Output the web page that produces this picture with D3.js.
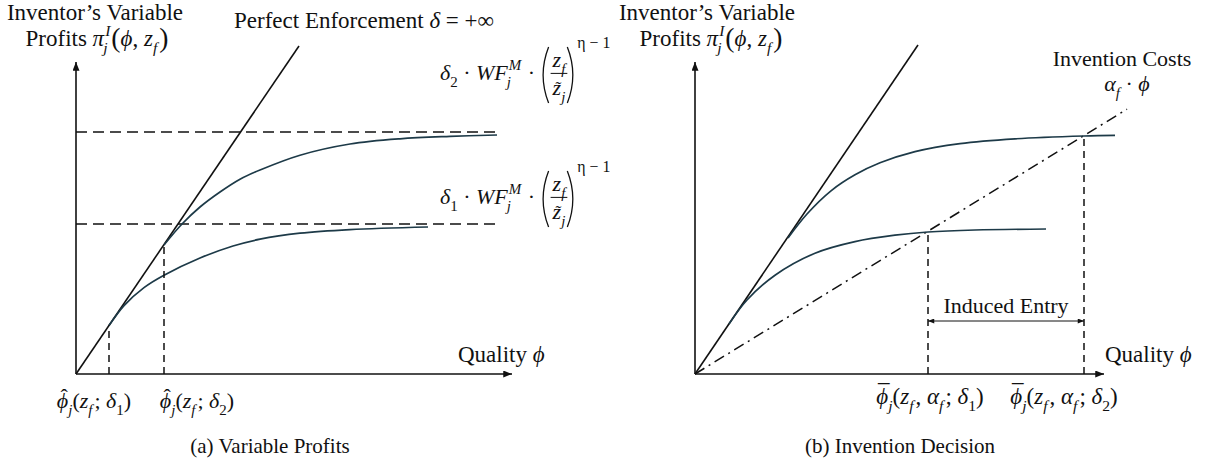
<!DOCTYPE html>
<html lang="en">
<head>
<meta charset="UTF-8">
<title>Variable Profits and Invention Decision</title>
<script src="https://d3js.org/d3.v7.min.js"></script>
<style>
  body { margin: 0; background: #fff; }
  text { font-family: "Liberation Serif", "DejaVu Serif", serif; fill: #111; white-space: pre; }
</style>
</head>
<body>
<script>
// ---- data, in model units (quality phi on x, profits on y) ----
// panel (a)
const perfectA = [[0, 0], [5.575, 8.2]];
const levelsA = [3.75, 6.05];             // delta_1, delta_2 ceilings
const tangentsA = [[0.825, 1.21], [2.2, 3.225]];
const profitsA1 = [[0.825, 1.21], [1.2, 1.71], [1.7, 2.16], [2.2, 2.47], [3.1, 2.9], [3.925, 3.2],
                   [4.6, 3.37], [5.6, 3.52], [6.85, 3.61], [8.8, 3.675]];
const profitsA2 = [[2.2, 3.225], [2.65, 3.75], [3.1, 4.175], [3.6, 4.55], [4.1, 4.87], [4.6, 5.1],
                   [5.6, 5.47], [6.85, 5.75], [8.1, 5.88], [9.35, 5.94], [10.525, 5.975]];
// panel (b)
const perfectB = [[0, 0], [5.575, 8.225]];
const costB = [[0, 0], [10.8, 6.62]];
const profitsB1 = [[0.85, 1.25], [1.3, 1.85], [2, 2.47], [3, 3.02], [4, 3.31], [5, 3.47],
                   [5.825, 3.55], [7, 3.6], [8.775, 3.625]];
const profitsB2 = [[2.325, 3.4], [2.8, 4.0], [3.4, 4.58], [4, 4.98], [4.625, 5.28], [5.5, 5.56],
                   [6.625, 5.76], [8, 5.88], [9.725, 5.95], [10.5, 5.965]];
const cutoffsB = [[5.825, 3.55], [9.725, 5.95]];
const entryArrowY = 1.325;

const xMaxA = 10.9, xMaxB = 10.225, yMax = 7.8, levelEnd = 10.6;

// ---- layout ----
const width = 1210, height = 472;
const FS = 22;
const ink = "#111", curveInk = "#1d3a48";

const svg = d3.select("body").append("svg")
    .attr("width", width).attr("height", height);

const y = d3.scaleLinear().domain([0, 8.5]).range([374, 34]);
const xA = d3.scaleLinear().domain([0, 11]).range([76, 516]);
const xB = d3.scaleLinear().domain([0, 11]).range([695, 1135]);

const defs = svg.append("defs");
defs.append("marker").attr("id", "arr")
    .attr("viewBox", "0 0 10 8").attr("refX", 10).attr("refY", 4)
    .attr("markerWidth", 9).attr("markerHeight", 7).attr("markerUnits", "userSpaceOnUse")
    .attr("orient", "auto")
    .append("path").attr("d", "M0,0 L10,4 L0,8 Z").attr("fill", ink);
defs.append("marker").attr("id", "arrS")
    .attr("viewBox", "0 0 10 8").attr("refX", 10).attr("refY", 4)
    .attr("markerWidth", 7).attr("markerHeight", 5).attr("markerUnits", "userSpaceOnUse")
    .attr("orient", "auto-start-reverse")
    .append("path").attr("d", "M0,0 L10,4 L0,8 Z").attr("fill", ink);

function lineOf(x, curve) {
  return d3.line().x(d => x(d[0])).y(d => y(d[1])).curve(curve || d3.curveLinear);
}

// ---- little math typesetter ----
function textAt(g, t, x, yy, size, italic) {
  const el = g.append("text").attr("x", x).attr("y", yy)
      .attr("font-size", size).style("font-style", italic ? "italic" : "normal").text(t);
  return el.node().getComputedTextLength();
}

function piece(g, it, x, base, fs) {
  if (typeof it === "string") it = { t: it };
  if (it.frac) {
    const bar = base - fs * 0.3;
    const ng = g.append("g"), dg = g.append("g");
    let wn = 0, wd = 0;
    it.num.forEach(p => { wn = piece(ng, p, wn, 0, fs); });
    it.den.forEach(p => { wd = piece(dg, p, wd, 0, fs); });
    const W = Math.max(wn, wd) + 4;
    ng.attr("transform", `translate(${x + (W - wn) / 2},${bar - 6})`);
    dg.attr("transform", `translate(${x + (W - wd) / 2},${bar + 22})`);
    g.append("line").attr("x1", x).attr("x2", x + W).attr("y1", bar).attr("y2", bar)
        .attr("stroke", ink).attr("stroke-width", 1);
    return x + W;
  }
  if (it.paren) {
    const top = base - fs * 1.5, bot = base + fs * 1.05, w = 7;
    const mid = (top + bot) / 2;
    const d = it.paren === "("
      ? `M${x + w + 1},${top} Q${x - 3},${mid} ${x + w + 1},${bot}`
      : `M${x},${top} Q${x + w + 4},${mid} ${x},${bot}`;
    g.append("path").attr("d", d).attr("fill", "none").attr("stroke", ink).attr("stroke-width", 1.3);
    return x + w + 3;
  }
  if (it.ss) {
    const a = textAt(g, it.sup, x + 1, base - fs * 0.45, fs * 0.68, true);
    const b = textAt(g, it.sub, x - 1, base + fs * 0.3, fs * 0.68, true);
    return x + Math.max(a, b) + 2;
  }
  const size = fs * (it.sub || it.sup ? 0.68 : (it.scale || 1));
  const dy = it.sub ? fs * 0.3 : it.sup ? -fs * 0.42 : (it.dy || 0);
  const w = textAt(g, it.t, x, base + dy, size, it.i);
  if (it.acc) {
    g.append("text").attr("x", x + w / 2 + (it.i ? 1.5 : 0)).attr("y", base - fs * (it.accUp || 0))
        .attr("text-anchor", "middle").attr("font-size", fs * (it.accSize || 1)).text(it.acc);
  }
  return x + w + (it.gap || 0);
}

function math(items, x, base, anchor, fs) {
  fs = fs || FS;
  const g = svg.append("g");
  let w = 0;
  items.forEach(p => { w = piece(g, p, w, 0, fs); });
  const dx = anchor === "middle" ? x - w / 2 : x;
  g.attr("transform", `translate(${dx},${base})`);
  return g;
}

const I = t => ({ t: t, i: true });
const sub = (t, i) => ({ t: t, sub: true, i: !!i });
const subF = { t: "f", sub: true, i: true, gap: 2 };

// ---- panel drawing ----
function axes(x, xMax) {
  svg.append("line").attr("x1", x(0)).attr("y1", y(0)).attr("x2", x(0)).attr("y2", y(yMax))
      .attr("stroke", ink).attr("stroke-width", 1.6).attr("marker-end", "url(#arr)");
  svg.append("line").attr("x1", x(0)).attr("y1", y(0)).attr("x2", x(xMax)).attr("y2", y(0))
      .attr("stroke", ink).attr("stroke-width", 1.6).attr("marker-end", "url(#arr)");
}

function drops(x, pts) {
  svg.append("g").selectAll("line").data(pts).join("line")
      .attr("x1", d => x(d[0])).attr("x2", d => x(d[0]))
      .attr("y1", y(0)).attr("y2", d => y(d[1]))
      .attr("stroke", ink).attr("stroke-width", 1.5).attr("stroke-dasharray", "7,5");
}

const smooth = d3.curveCatmullRom.alpha(0.5);

// panel (a)
svg.append("g").selectAll("line").data(levelsA).join("line")
    .attr("x1", xA(0)).attr("x2", xA(levelEnd)).attr("y1", d => y(d)).attr("y2", d => y(d))
    .attr("stroke", ink).attr("stroke-width", 1.5).attr("stroke-dasharray", "11,6");
svg.append("path").attr("d", lineOf(xA)(perfectA))
    .attr("fill", "none").attr("stroke", ink).attr("stroke-width", 1.6);
[profitsA1, profitsA2].forEach(c => svg.append("path").attr("d", lineOf(xA, smooth)(c))
    .attr("fill", "none").attr("stroke", curveInk).attr("stroke-width", 1.7));
drops(xA, tangentsA);
axes(xA, xMaxA);

// panel (b)
svg.append("path").attr("d", lineOf(xB)(costB))
    .attr("fill", "none").attr("stroke", ink).attr("stroke-width", 1.5).attr("stroke-dasharray", "11,5,2,5");
svg.append("path").attr("d", lineOf(xB)(perfectB))
    .attr("fill", "none").attr("stroke", ink).attr("stroke-width", 1.6);
[profitsB1, profitsB2].forEach(c => svg.append("path").attr("d", lineOf(xB, smooth)(c))
    .attr("fill", "none").attr("stroke", curveInk).attr("stroke-width", 1.7));
drops(xB, cutoffsB);
svg.append("line")
    .attr("x1", xB(cutoffsB[0][0])).attr("x2", xB(cutoffsB[1][0]))
    .attr("y1", y(entryArrowY)).attr("y2", y(entryArrowY))
    .attr("stroke", ink).attr("stroke-width", 1)
    .attr("marker-start", "url(#arrS)").attr("marker-end", "url(#arrS)");
axes(xB, xMaxB);

// ---- labels ----
const profitsLabel = ["Profits ", I("π"), { ss: true, sup: "I", sub: "j" },
  { t: "(", scale: 1.2, dy: 1 }, I("ϕ"), ", ", I("z"), subF, { t: ")", scale: 1.2, dy: 1 }];

function ceiling(d) {
  return [I("δ"), sub(d), " · ", I("WF"), { ss: true, sup: "M", sub: "j" }, " · ",
    { paren: "(" },
    { frac: true, num: [I("z"), sub("f", true)],
      den: [{ t: "z", i: true, acc: "˜", accUp: 0.1, accSize: 0.8 }, sub("j", true)] },
    { paren: ")" },
    { t: "η − 1", dy: -FS * 1.45, scale: 0.72 }];
}
const hatPhi = { t: "ϕ", i: true, acc: "ˆ", accUp: 0.2 };
const barPhi = { t: "ϕ", i: true, acc: "¯", accUp: 0.12 };

// panel (a) text
math(["Inventor’s Variable"], 95, 20, "middle", 23);
math(profitsLabel, 97, 46, "middle", 23);
math(["Perfect Enforcement ", I("δ"), " = +∞"], 234, 28, "start", 23);
math(ceiling("2"), 440, 80, "start");
math(ceiling("1"), 440, 204, "start");
math(["Quality ", I("ϕ")], 458, 362, "start", 23);
math([hatPhi, sub("j", true), "(", I("z"), subF, "; ", I("δ"), sub("1"), ")"],
     xA(tangentsA[0][0]) - 15, 408, "middle");
math([hatPhi, sub("j", true), "(", I("z"), subF, "; ", I("δ"), sub("2"), ")"],
     xA(tangentsA[1][0]) + 33, 408, "middle");
math(["(a) Variable Profits"], 270, 453, "middle", 21);

// panel (b) text
math(["Inventor’s Variable"], 707, 20, "middle", 23);
math(profitsLabel, 711, 46, "middle", 23);
math(["Invention Costs"], 1122, 66, "middle");
math([I("α"), sub("f", true), " · ", I("ϕ")], 1127, 91, "middle");
math(["Induced Entry"], (xB(cutoffsB[0][0]) + xB(cutoffsB[1][0])) / 2, y(entryArrowY) - 8, "middle");
math(["Quality ", I("ϕ")], 1105, 362, "start", 23);
math([barPhi, sub("j", true), "(", I("z"), subF, ", ", I("α"), subF, "; ", I("δ"), sub("1"), ")"],
     xB(cutoffsB[0][0]) + 2, 404, "middle", 23);
math([barPhi, sub("j", true), "(", I("z"), subF, ", ", I("α"), subF, "; ", I("δ"), sub("2"), ")"],
     xB(cutoffsB[1][0]) - 20, 404, "middle", 23);
math(["(b) Invention Decision"], 900, 453, "middle", 21);
</script>
</body>
</html>
